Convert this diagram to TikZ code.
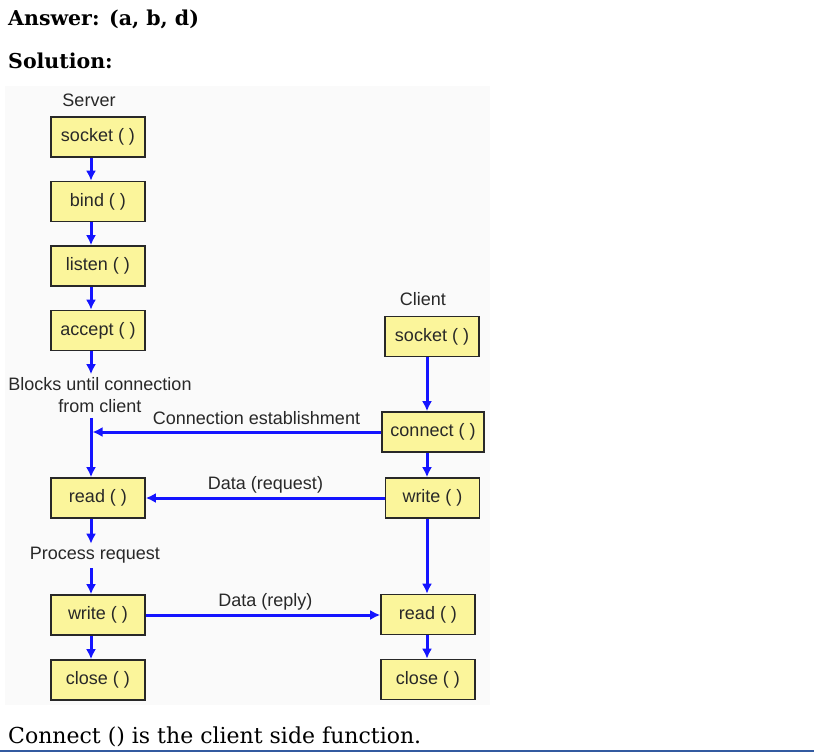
\documentclass[tikz,border=0pt]{standalone}
\usepackage{fontspec}
\newfontfamily\diagfont{Liberation Sans}
\newfontfamily\pagefont{DejaVu Serif}
\usepackage{tikz}
\usetikzlibrary{arrows.meta,positioning}
\usepackage{xcolor}
\definecolor{sockblue}{RGB}{20,20,255}
\definecolor{sockyellow}{RGB}{251,245,155}
\definecolor{sockgray}{RGB}{40,40,40}
\definecolor{panelgray}{RGB}{250,250,250}
\definecolor{ruleblue}{RGB}{50,90,160}
\tikzstyle{arrow} = [line width=3pt,-{Latex[length=10pt,width=10pt]},color=sockblue]
\tikzstyle{call} = [rectangle, minimum width=94pt, minimum height=40pt, inner sep=2pt, text centered, draw=sockgray, fill=sockyellow, line width=1.6pt, text=sockgray, font=\diagfont\fontsize{18}{21}\selectfont]
\tikzstyle{note} = [inner sep=0pt, align=center, text=sockgray, font=\diagfont\fontsize{18}{22}\selectfont]

\begin{document}
\begin{tikzpicture}[x=1pt, y=-1pt, node distance=64.5pt]
\useasboundingbox (0,0) rectangle (814,753);
\fill[panelgray] (5,86) rectangle (490,705);

% Page text
\node (answer) [anchor=base west, inner sep=0pt, font=\pagefont\bfseries\fontsize{20.5}{24}\selectfont] at (8,25) {Answer: (a, b, d)};
\node (solution) [anchor=base west, inner sep=0pt, font=\pagefont\bfseries\fontsize{20.5}{24}\selectfont] at (8,68) {Solution:};
\node (remark) [anchor=base west, inner sep=0pt, font=\pagefont\fontsize{22}{26}\selectfont] at (8,743) {Connect () is the client side function.};
\draw[ruleblue, line width=2pt] (0,751) -- (814,751);

% Server side
\node (server) [note] at (89,100) {Server};
\node (ssock) [call] at (98,137) {socket ( )};
\node (sbind) [call, below of=ssock] {bind ( )};
\node (slisten) [call, below of=sbind] {listen ( )};
\node (saccept) [call, below of=slisten] {accept ( )};
\node (blocks) [note] at (100,395) {Blocks until connection\\from client};
\node (sread) [call] at (98,498) {read ( )};
\node (proc) [note] at (95,555) {Process request};
\node (swrite) [call] at (98,615) {write ( )};
\node (sclose) [call, below of=swrite, node distance=65pt] {close ( )};

% Client side
\node (client) [note] at (423,299) {Client};
\node (csock) [call] at (432,336.5) {socket ( )};
\node (cconn) [call, minimum width=102pt] at (433,432) {connect ( )};
\node (cwrite) [call] at (432.5,498) {write ( )};
\node (cread) [call] at (428,614.5) {read ( )};
\node (cclose) [call] at (428,679.5) {close ( )};

% Messages
\node (estab) [note] at (256.5,418) {Connection establishment};
\node (req) [note] at (265.5,485) {Data (request)};
\node (reply) [note] at (265.5,602) {Data (reply)};

\coordinate (sx) at (91,0);
\coordinate (cx) at (427,0);

\draw[arrow] (ssock.south -| sx) -- (sbind.north -| sx);
\draw[arrow] (sbind.south -| sx) -- (slisten.north -| sx);
\draw[arrow] (slisten.south -| sx) -- (saccept.north -| sx);
\draw[arrow] (saccept.south -| sx) -- ([yshift=3pt]blocks.north -| sx);
\draw[arrow] ([yshift=-5pt]blocks.south -| sx) -- (sread.north -| sx);
\draw[arrow] (sread.south -| sx) -- ([yshift=3pt]proc.north -| sx);
\draw[arrow] ([yshift=-5pt]proc.south -| sx) -- (swrite.north -| sx);
\draw[arrow] (swrite.south -| sx) -- (sclose.north -| sx);

\draw[arrow] (csock.south -| cx) -- (cconn.north -| cx);
\draw[arrow] (cconn.south -| cx) -- (cwrite.north -| cx);
\draw[arrow] (cwrite.south -| cx) -- (cread.north -| cx);
\draw[arrow] (cread.south -| cx) -- (cclose.north -| cx);

\draw[arrow] (cconn.west) -- ([xshift=1.5pt]cconn.west -| sx);
\draw[arrow] (cwrite.west) -- (cwrite.west -| sread.east);
\draw[arrow] (swrite.east) -- (swrite.east -| cread.west);
\end{tikzpicture}
\end{document}
